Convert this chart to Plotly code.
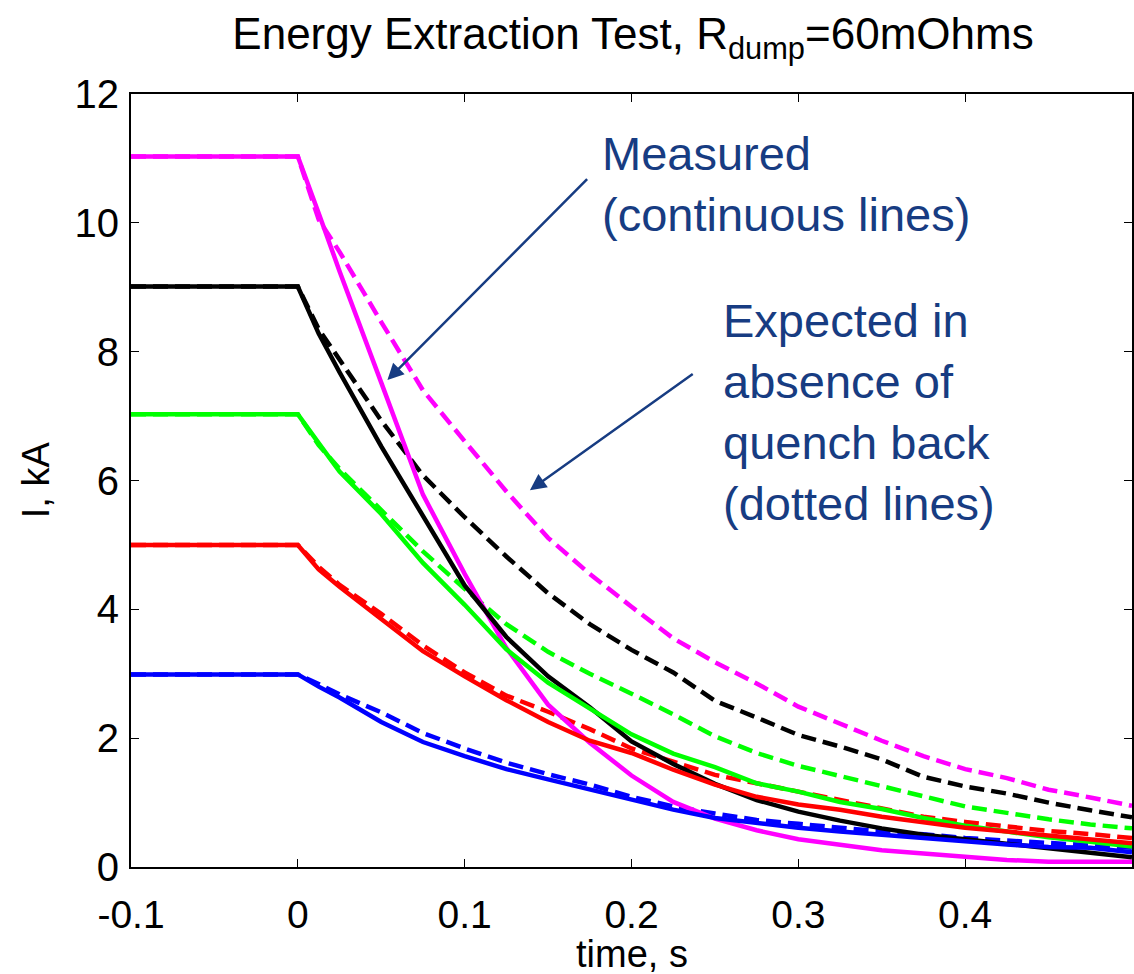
import plotly.graph_objects as go

# time axis (s)
time_s = [-0.1, 0.0, 0.0125, 0.025, 0.05, 0.075, 0.1, 0.125, 0.15, 0.175, 0.2,
          0.225, 0.25, 0.275, 0.3, 0.325, 0.35, 0.375, 0.4, 0.425, 0.45, 0.475, 0.5]

# measured currents (kA) - continuous lines
meas_11kA = [11.03, 11.03, 10.15, 9.25, 7.52, 5.78, 4.55, 3.40, 2.52, 1.93, 1.42,
             1.01, 0.75, 0.57, 0.43, 0.34, 0.26, 0.21, 0.16, 0.11, 0.08, 0.08, 0.08]
meas_9kA = [9.01, 9.01, 8.28, 7.68, 6.53, 5.44, 4.37, 3.57, 2.96, 2.48, 1.95,
            1.60, 1.29, 1.04, 0.86, 0.72, 0.60, 0.50, 0.43, 0.36, 0.29, 0.23, 0.15]
meas_7kA = [7.03, 7.03, 6.58, 6.14, 5.48, 4.72, 4.07, 3.38, 2.86, 2.47, 2.06,
            1.76, 1.55, 1.30, 1.17, 1.01, 0.90, 0.76, 0.64, 0.55, 0.46, 0.39, 0.32]
meas_5kA = [5.0, 5.0, 4.62, 4.35, 3.85, 3.35, 2.96, 2.59, 2.25, 1.96, 1.77,
            1.51, 1.28, 1.09, 0.97, 0.89, 0.78, 0.70, 0.61, 0.55, 0.49, 0.43, 0.37]
meas_3kA = [2.99, 2.99, 2.80, 2.63, 2.25, 1.94, 1.72, 1.52, 1.36, 1.20, 1.04,
            0.89, 0.76, 0.68, 0.61, 0.55, 0.50, 0.45, 0.39, 0.35, 0.31, 0.30, 0.23]

# expected currents (kA) without quench back - dashed lines
exp_11kA = [11.03, 11.03, 10.05, 9.55, 8.46, 7.40, 6.61, 5.83, 5.11, 4.55, 4.04,
            3.55, 3.18, 2.85, 2.49, 2.23, 1.96, 1.72, 1.52, 1.38, 1.20, 1.08, 0.95]
exp_9kA = [9.01, 9.01, 8.35, 7.88, 6.93, 6.08, 5.43, 4.82, 4.25, 3.77, 3.37,
           3.02, 2.58, 2.32, 2.05, 1.87, 1.67, 1.40, 1.25, 1.14, 1.00, 0.88, 0.77]
exp_7kA = [7.03, 7.03, 6.55, 6.18, 5.54, 4.90, 4.32, 3.77, 3.34, 3.00, 2.69,
           2.37, 2.03, 1.77, 1.57, 1.41, 1.26, 1.10, 0.94, 0.84, 0.74, 0.66, 0.60]
exp_5kA = [5.0, 5.0, 4.66, 4.38, 3.93, 3.44, 3.02, 2.66, 2.41, 2.14, 1.84,
           1.63, 1.43, 1.30, 1.17, 1.03, 0.90, 0.78, 0.70, 0.63, 0.56, 0.51, 0.45]
exp_3kA = [2.99, 2.99, 2.84, 2.68, 2.40, 2.08, 1.84, 1.62, 1.44, 1.28, 1.09,
           0.94, 0.83, 0.73, 0.67, 0.61, 0.55, 0.51, 0.45, 0.41, 0.37, 0.33, 0.30]

series_colors = ["#FF00FF", "#000000", "#00FF00", "#FF0000", "#0000FF"]
measured = [meas_11kA, meas_9kA, meas_7kA, meas_5kA, meas_3kA]
expected = [exp_11kA, exp_9kA, exp_7kA, exp_5kA, exp_3kA]

x_ticks = [-0.1, 0, 0.1, 0.2, 0.3, 0.4]
x_ticklabels = ["-0.1", "0", "0.1", "0.2", "0.3", "0.4"]
y_ticks = [0, 2, 4, 6, 8, 10, 12]

FONT = "Liberation Sans, Arial, Helvetica, sans-serif"
NAVY = "#173C82"

fig = go.Figure()
for vals, col in zip(expected, series_colors):
    fig.add_trace(go.Scatter(x=time_s, y=vals, mode="lines",
                             line=dict(color=col, width=4.5, dash="15px,7px"),
                             showlegend=False, hoverinfo="skip"))
for vals, col in zip(measured, series_colors):
    fig.add_trace(go.Scatter(x=time_s, y=vals, mode="lines",
                             line=dict(color=col, width=4.5),
                             showlegend=False, hoverinfo="skip"))

W, H = 1134, 974
L, R, T, B = 131, 0, 94, 107
pw, ph = W - L - R, H - T - B

def px2paper_x(px):
    return (px - L) / pw

def px2paper_y(py):
    return (H - B - py) / ph

fig.update_layout(
    width=W, height=H,
    margin=dict(l=L, r=R, t=T, b=B),
    paper_bgcolor="white", plot_bgcolor="white",
    font=dict(family=FONT, color="black"),
    title=dict(text="Energy Extraction Test, R<sub>dump</sub>=60mOhms",
               x=px2paper_x(634), xref="paper", xanchor="center",
               y=1 - 34 / H, yref="container", yanchor="middle",
               font=dict(size=44, family=FONT, color="black")),
    xaxis=dict(range=[-0.1, 0.5], tickvals=x_ticks, ticktext=x_ticklabels,
               ticks="inside", ticklen=8, tickwidth=1, tickcolor="black",
               showline=True, linecolor="black", linewidth=2, mirror="allticks",
               showgrid=False, zeroline=False,
               tickfont=dict(size=39, family=FONT, color="black"),
               ticklabelstandoff=12),
    yaxis=dict(range=[0, 12], tickvals=y_ticks,
               ticks="inside", ticklen=8, tickwidth=1, tickcolor="black",
               showline=True, linecolor="black", linewidth=2, mirror="allticks",
               showgrid=False, zeroline=False,
               tickfont=dict(size=40, family=FONT, color="black"),
               ticklabelstandoff=2),
)

annotations = [
    dict(text="I, kA", xref="paper", yref="paper", x=px2paper_x(36), y=px2paper_y(480),
         xanchor="center", yanchor="middle", textangle=-90, showarrow=False,
         font=dict(size=38, family=FONT, color="black")),
    dict(text="time, s", xref="paper", yref="paper", x=px2paper_x(633), y=px2paper_y(954),
         xanchor="center", yanchor="middle", showarrow=False,
         font=dict(size=38, family=FONT, color="black")),
    dict(text="Measured<br>(continuous lines)", xref="x", yref="y",
         x=0.181, y=10.6, xanchor="left", yanchor="middle", align="left",
         showarrow=False, font=dict(size=47, family=FONT, color=NAVY)),
    dict(text="Expected in<br>absence of<br>quench back<br>(dotted lines)", xref="x", yref="y",
         x=0.2537, y=7.07, xanchor="left", yanchor="middle", align="left",
         showarrow=False, font=dict(size=47, family=FONT, color=NAVY)),
    dict(text="", xref="x", yref="y", x=0.0537, y=7.56, axref="x", ayref="y",
         ax=0.1743, ay=10.70, showarrow=True, arrowhead=2, arrowsize=1.3,
         arrowwidth=2.5, arrowcolor=NAVY),
    dict(text="", xref="x", yref="y", x=0.1391, y=5.85, axref="x", ayref="y",
         ax=0.2376, ay=7.67, showarrow=True, arrowhead=2, arrowsize=1.3,
         arrowwidth=2.5, arrowcolor=NAVY),
]
fig.update_layout(annotations=annotations)

fig.write_html("out.html")
